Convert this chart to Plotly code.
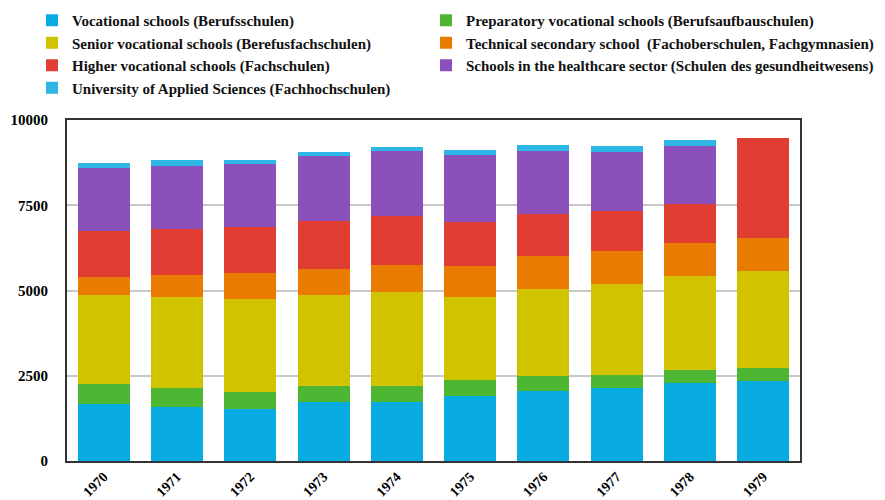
import plotly.graph_objects as go

years = ["1970", "1971", "1972", "1973", "1974", "1975", "1976", "1977", "1978", "1979"]

vocational = [1670, 1580, 1520, 1730, 1730, 1920, 2050, 2140, 2300, 2350]
preparatory = [600, 560, 500, 470, 470, 470, 440, 380, 360, 390]
senior = [2600, 2680, 2740, 2680, 2770, 2430, 2550, 2660, 2770, 2820]
technical = [530, 640, 750, 760, 780, 900, 970, 990, 970, 990]
higher = [1340, 1340, 1360, 1410, 1440, 1300, 1230, 1150, 1150, 2910]
healthcare = [1840, 1860, 1850, 1900, 1890, 1960, 1860, 1750, 1700, 0]
university = [150, 180, 110, 110, 140, 130, 170, 170, 170, 0]

series = [
    ("Vocational schools (Berufsschulen)", vocational, "#08ACE0", "legend"),
    ("Preparatory vocational schools (Berufsaufbauschulen)", preparatory, "#4DB733", "legend2"),
    ("Senior vocational schools (Berefusfachschulen)", senior, "#D1C300", "legend"),
    ("Technical secondary school  (Fachoberschulen, Fachgymnasien)", technical, "#E97C00", "legend2"),
    ("Higher vocational schools (Fachschulen)", higher, "#E03E33", "legend"),
    ("Schools in the healthcare sector (Schulen des gesundheitwesens)", healthcare, "#8C50BA", "legend2"),
    ("University of Applied Sciences (Fachhochschulen)", university, "#2DB6E6", "legend"),
]

fig = go.Figure()
for name, vals, col, lg in series:
    fig.add_trace(go.Bar(x=years, y=vals, name=name, legend=lg,
                         marker=dict(color=col, line=dict(width=0))))

font_family = "Liberation Serif, Times New Roman, serif"
legend_font = dict(family=font_family, size=15, color="#111", weight="bold")
fig.update_layout(
    barmode="stack",
    bargap=0.29,
    width=885, height=500,
    margin=dict(l=67, r=85, t=120, b=39, autoexpand=False),
    plot_bgcolor="white", paper_bgcolor="white",
    font=dict(family=font_family, color="black", size=14),
    legend=dict(
        orientation="v", x=32 / 885, xanchor="left", y=1 - 4 / 500, yanchor="top",
        xref="container", yref="container",
        font=legend_font, traceorder="normal", bgcolor="rgba(0,0,0,0)",
    ),
    legend2=dict(
        orientation="v", x=426 / 885, xanchor="left", y=1 - 4 / 500, yanchor="top",
        xref="container", yref="container",
        font=legend_font, traceorder="normal", bgcolor="rgba(0,0,0,0)",
    ),
    showlegend=True,
)
fig.update_xaxes(
    tickangle=-45, showline=True, linecolor="#333", linewidth=2, mirror=True,
    tickfont=dict(family=font_family, size=14, color="black", weight="bold"),
    automargin=False, ticks="",
)
fig.update_yaxes(
    range=[0, 10000], tickvals=[0, 2500, 5000, 7500, 10000], tickformat="d",
    showgrid=True, gridcolor="#C8C8C8", gridwidth=1.5,
    showline=True, linecolor="#333", linewidth=2, mirror=True,
    tickfont=dict(family=font_family, size=15, color="black", weight="bold"),
    automargin=False, zeroline=False, ticks="outside", ticklen=14, tickcolor="rgba(0,0,0,0)",
)
fig.write_html("out.html")
